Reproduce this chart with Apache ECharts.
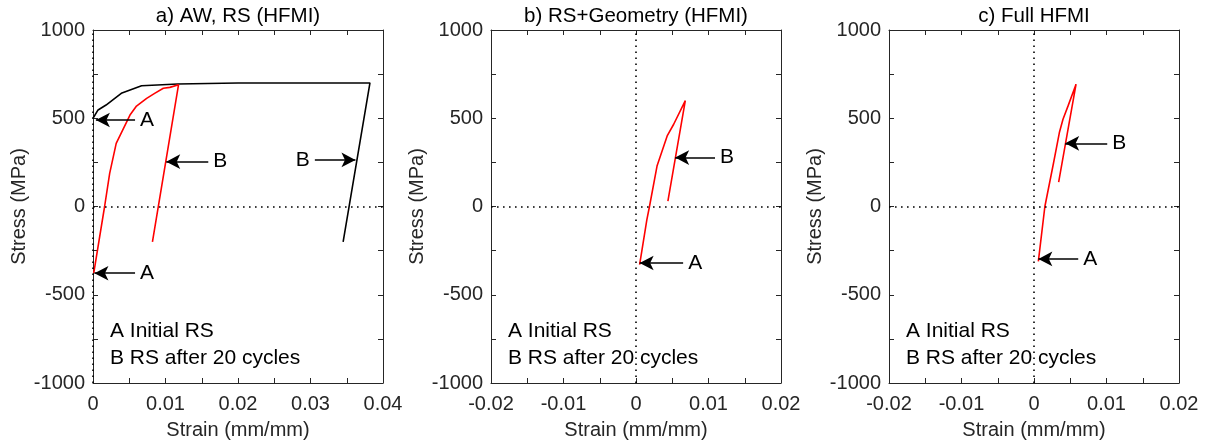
<!DOCTYPE html>
<html>
<head>
<meta charset="utf-8">
<script src="https://cdn.jsdelivr.net/npm/echarts@6/dist/echarts.min.js"></script>
<style>
  html, body { margin: 0; padding: 0; background: #fff; }
  #chart { width: 1208px; height: 445px; }
</style>
</head>
<body>
<div id="chart"></div>
<script>
// Panel titles
const panelTitles = ['a) AW, RS (HFMI)', 'b) RS+Geometry (HFMI)', 'c) Full HFMI'];

// Axis ranges
const xRanges = [[0, 0.04], [-0.02, 0.02], [-0.02, 0.02]];
const yRange = [-1000, 1000];

// a) as-welded response (black), strain and stress
const awStrain = [0, 0.0007, 0.0018, 0.0039, 0.0067, 0.0117, 0.0200, 0.0300, 0.0382, 0.0345];
const awStress = [500, 547, 575, 641, 684, 694, 700, 700, 700, -200];

// a) HFMI residual stress response (red)
const hfmiStrainA = [0.0001, 0.0016, 0.0023, 0.0032, 0.0051, 0.0060, 0.0074, 0.0085, 0.0097, 0.0106, 0.0118, 0.0082];
const hfmiStressA = [-378, 0, 188, 358, 518, 569, 613, 641, 670, 675, 690, -200];

// b) RS + geometry (red)
const hfmiStrainB = [0.0005, 0.0015, 0.00186, 0.0029, 0.0043, 0.0052, 0.0068, 0.0044];
const hfmiStressB = [-330, -74, 0, 229, 400, 466, 600, 30];

// c) full HFMI (red)
const hfmiStrainC = [0.0006, 0.0015, 0.0027, 0.0035, 0.0040, 0.0047, 0.0058, 0.0034];
const hfmiStressC = [-311, 0, 248, 419, 494, 570, 693, 138];

// Annotation arrows per panel: label, tail strain, tip strain, stress
const arrowsA = [
  ['A', 0.0058, 0.0004, 490],
  ['A', 0.0058, 0.0002, -378],
  ['B', 0.0159, 0.0101, 254],
  ['B', 0.0306, 0.0362, 264]
];
const arrowsB = [
  ['A', 0.0065, 0.0005, -320],
  ['B', 0.0109, 0.0054, 277]
];
const arrowsC = [
  ['A', 0.0061, 0.0006, -297],
  ['B', 0.0101, 0.0043, 358]
];

const legendNote = ['A Initial RS', 'B RS after 20 cycles'];

const FONT = '"Liberation Sans", Arial, Helvetica, sans-serif';
const AXIS_COLOR = '#262626';

const gridLefts = [93, 491, 889];
const GRID_TOP = 30, GRID_W = 290, GRID_H = 353;

const zip = (xs, ys) => xs.map((x, i) => [x, ys[i]]);

const grids = [], xAxes = [], yAxes = [], series = [], graphics = [];

function baseAxis(extra) {
  return Object.assign({
    type: 'value',
    splitLine: { show: false },
    minorSplitLine: { show: false },
    axisLine: { show: true, onZero: false, lineStyle: { color: AXIS_COLOR, width: 1 } },
    axisTick: { show: true, inside: true, length: 5, lineStyle: { color: AXIS_COLOR } },
    minorTick: { show: true, splitNumber: 2, length: 5, lineStyle: { color: AXIS_COLOR } }
  }, extra);
}

const curveSets = [
  [{ x: awStrain, y: awStress, color: '#000000' }, { x: hfmiStrainA, y: hfmiStressA, color: '#ff0000' }],
  [{ x: hfmiStrainB, y: hfmiStressB, color: '#ff0000' }],
  [{ x: hfmiStrainC, y: hfmiStressC, color: '#ff0000' }]
];
const arrowSets = [arrowsA, arrowsB, arrowsC];

for (let p = 0; p < 3; p++) {
  grids.push({ left: gridLefts[p], top: GRID_TOP, width: GRID_W, height: GRID_H, containLabel: false });
  const [xmin, xmax] = xRanges[p];

  // bottom and top x axes
  xAxes.push(baseAxis({
    gridIndex: p, position: 'bottom', min: xmin, max: xmax, interval: 0.01,
    name: 'Strain (mm/mm)', nameLocation: 'middle', nameGap: 37,
    nameTextStyle: { fontSize: 20, color: AXIS_COLOR, fontFamily: FONT },
    axisLabel: { fontSize: 20, color: AXIS_COLOR, fontFamily: FONT, margin: 11,
      formatter: v => String(Math.round(v * 1000) / 1000) }
  }));
  xAxes.push(baseAxis({
    gridIndex: p, position: 'top', min: xmin, max: xmax, interval: 0.01,
    axisLabel: { show: false }
  }));
  // left and right y axes
  yAxes.push(baseAxis({
    gridIndex: p, position: 'left', min: yRange[0], max: yRange[1], interval: 500,
    name: 'Stress (MPa)', nameLocation: 'middle', nameGap: 63,
    nameTextStyle: { fontSize: 20, color: AXIS_COLOR, fontFamily: FONT },
    axisLabel: { fontSize: 20, color: AXIS_COLOR, fontFamily: FONT, margin: 8,
      formatter: v => String(Math.round(v)) }
  }));
  yAxes.push(baseAxis({
    gridIndex: p, position: 'right', min: yRange[0], max: yRange[1], interval: 500,
    axisLabel: { show: false }
  }));

  const xi = p * 2, yi = p * 2;

  // stress-strain curves
  curveSets[p].forEach((c) => {
    series.push({
      type: 'line', xAxisIndex: xi, yAxisIndex: yi,
      data: zip(c.x, c.y), showSymbol: false, symbol: 'none',
      lineStyle: { color: c.color, width: 1.6 },
      z: 3
    });
  });

  // zero reference lines and labelled arrows
  series.push({
    type: 'line', xAxisIndex: xi, yAxisIndex: yi, data: [],
    markLine: {
      silent: true, animation: false, symbol: 'none',
      lineStyle: { color: '#000', type: [1.6, 4.4], width: 1.6 },
      label: { show: false },
      data: [{ yAxis: 0 }, { xAxis: 0 }]
    },
    z: 4
  });
  series.push({
    type: 'line', xAxisIndex: xi, yAxisIndex: yi, data: [],
    markLine: {
      silent: true, animation: false,
      symbol: ['none', 'arrow'], symbolSize: [11, 14],
      lineStyle: { color: '#000', type: 'solid', width: 1.6 },
      itemStyle: { color: '#000' },
      label: { show: true, position: 'start', distance: 5, formatter: '{b}',
        fontSize: 21, color: '#000', fontFamily: FONT },
      data: arrowSets[p].map(a => [
        { name: a[0], coord: [a[1], a[3]] },
        { coord: [a[2], a[3]] }
      ])
    },
    z: 5
  });

  // panel title
  graphics.push({
    type: 'text', x: gridLefts[p] + GRID_W / 2, y: 16,
    style: { text: panelTitles[p], textAlign: 'center', textVerticalAlign: 'middle',
      fontSize: 20.5, fontFamily: FONT, fill: '#000' }
  });
  // note text
  graphics.push({
    type: 'text', x: gridLefts[p] + 17, y: 318,
    style: { text: legendNote.join('\n'), textAlign: 'left', textVerticalAlign: 'top',
      fontSize: 21, lineHeight: 27, fontFamily: FONT, fill: '#000' }
  });
}

const chart = echarts.init(document.getElementById('chart'), null, { renderer: 'canvas' });
chart.setOption({
  animation: false,
  backgroundColor: '#ffffff',
  textStyle: { fontFamily: FONT },
  grid: grids,
  xAxis: xAxes,
  yAxis: yAxes,
  series: series,
  graphic: graphics
});
</script>
</body>
</html>
